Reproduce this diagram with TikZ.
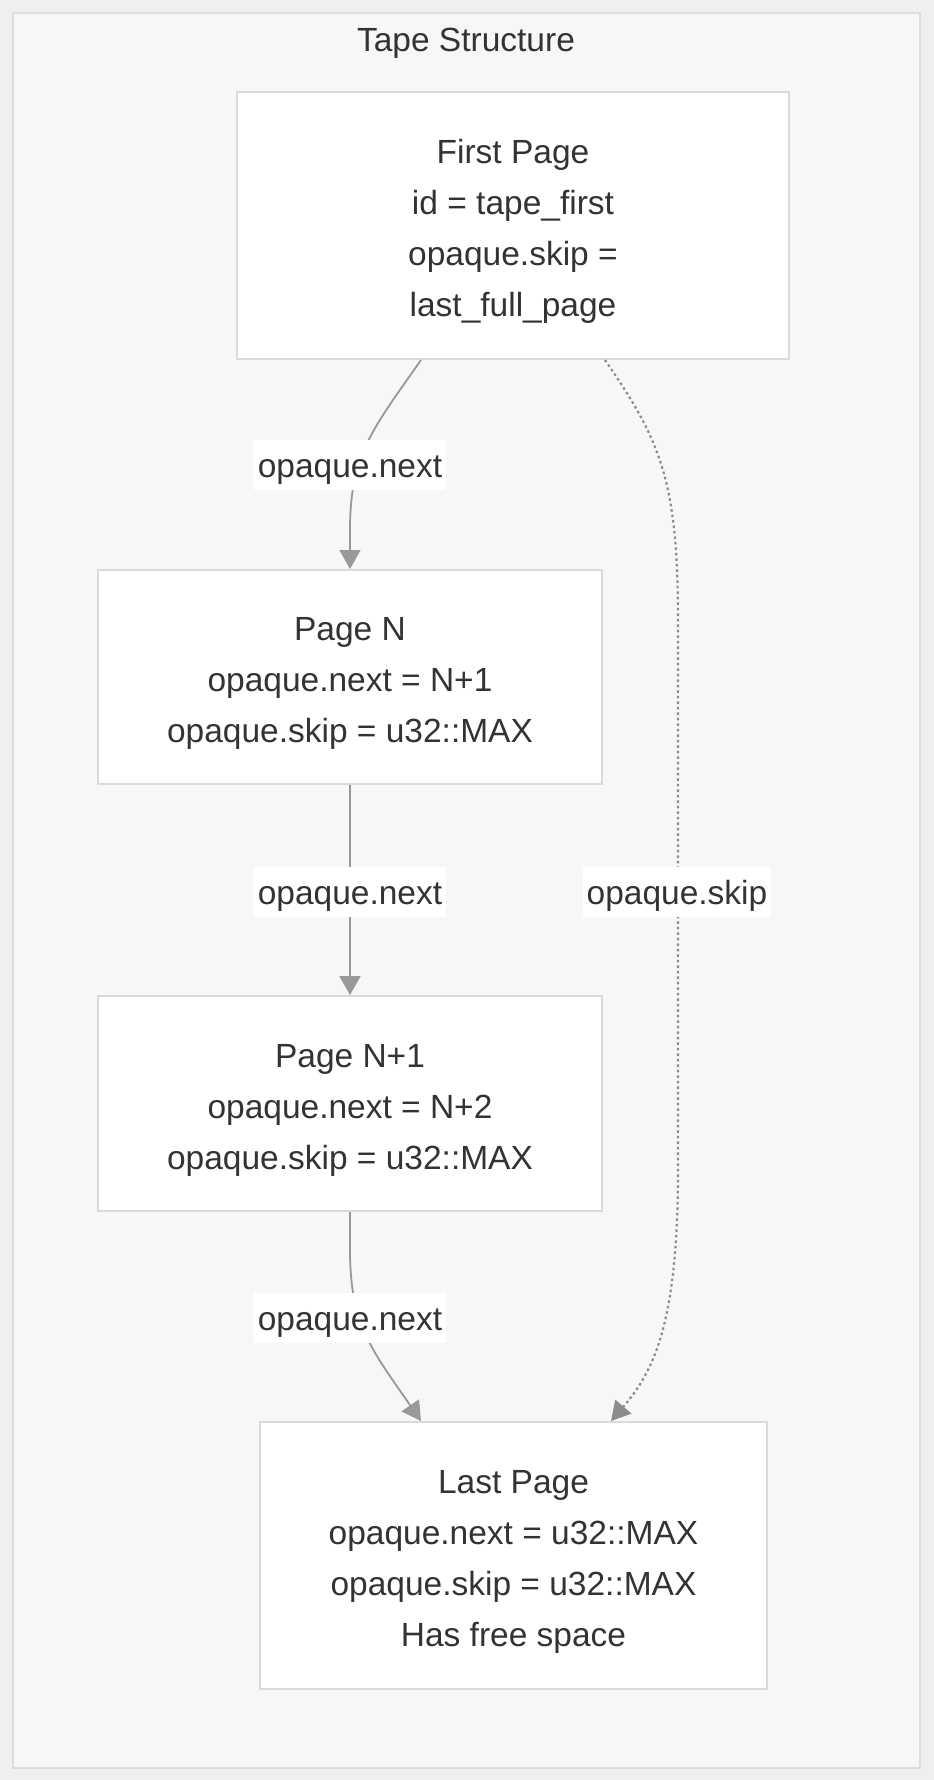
\documentclass[tikz,border=0pt]{standalone}
\usepackage{fontspec}
\setmainfont{Liberation Sans}
\usetikzlibrary{arrows.meta}
\definecolor{bgc}{HTML}{EFEFEF}
\definecolor{clfill}{HTML}{F7F7F7}
\definecolor{clborder}{HTML}{DDDDDD}
\definecolor{boxborder}{HTML}{DADADA}
\definecolor{txt}{HTML}{333333}
\definecolor{edgec}{HTML}{999999}
\definecolor{skipc}{HTML}{8C8C8C}
\newcommand{\lowtext}[1]{\raisebox{-4.5pt}[\height][\depth]{\begin{tabular}{@{}c@{}}#1\end{tabular}}}
\tikzset{
  pagebox/.style={draw=boxborder, line width=2pt, fill=white, align=center, text=txt,
    font=\fontsize{33.5}{51}\selectfont, inner sep=0pt},
  lbl/.style={fill=white, text=txt, font=\fontsize{33.5}{40}\selectfont, inner xsep=4pt,
    minimum height=50pt, inner ysep=0pt},
  edge/.style={draw=edgec, line width=1.8pt, -{Triangle[length=19pt,width=21pt]}},
  skipedge/.style={edge, draw=skipc, line width=2.2pt, dash pattern=on 2.5pt off 3pt}
}
\begin{document}
\begin{tikzpicture}[x=1pt,y=-1pt]
\useasboundingbox (0,0) rectangle (934,1780);
\fill[bgc] (0,0) rectangle (934,1780);
\draw[clborder, fill=clfill, line width=2pt] (12.5,12.5) rectangle (920,1768);
\node[text=txt, font=\fontsize{33.5}{40}\selectfont] (title) at (466,43) {Tape Structure};

\node[pagebox, minimum width=552pt, minimum height=267pt] (first) at (513,225.5)
  {\lowtext{First Page\\id = tape\_first\\opaque.skip =\\last\_full\_page}};
\node[pagebox, minimum width=504pt, minimum height=214pt] (pn) at (350,677)
  {\lowtext{Page N\\opaque.next = N+1\\opaque.skip = u32::MAX}};
\node[pagebox, minimum width=504pt, minimum height=215pt] (pn1) at (350,1103.5)
  {\lowtext{Page N+1\\opaque.next = N+2\\opaque.skip = u32::MAX}};
\node[pagebox, minimum width=507pt, minimum height=267pt] (last) at (513.5,1555.5)
  {\lowtext{Last Page\\opaque.next = u32::MAX\\opaque.skip = u32::MAX\\Has free space}};

\draw[edge] ([xshift=-92pt]first.south) .. controls (372,430) and (350,455) .. (350,530) -- (pn.north);
\draw[edge] (pn.south) -- (pn1.north);
\draw[edge] (pn1.south) -- (350,1250) .. controls (350,1325) and (372,1350) .. ([xshift=-92.5pt]last.north);
\draw[skipedge] ([xshift=92pt]first.south) .. controls (660,440) and (678,480) .. (678,620) -- (678,1170) .. controls (678,1320) and (655,1370) .. ([xshift=97.5pt]last.north);

\node[lbl] (l1) at (350,465) {\lowtext{opaque.next}};
\node[lbl] (l2) at (350,892) {\lowtext{opaque.next}};
\node[lbl] (l3) at (350,1318) {\lowtext{opaque.next}};
\node[lbl] (l4) at (677,892) {\lowtext{opaque.skip}};
\end{tikzpicture}
\end{document}
